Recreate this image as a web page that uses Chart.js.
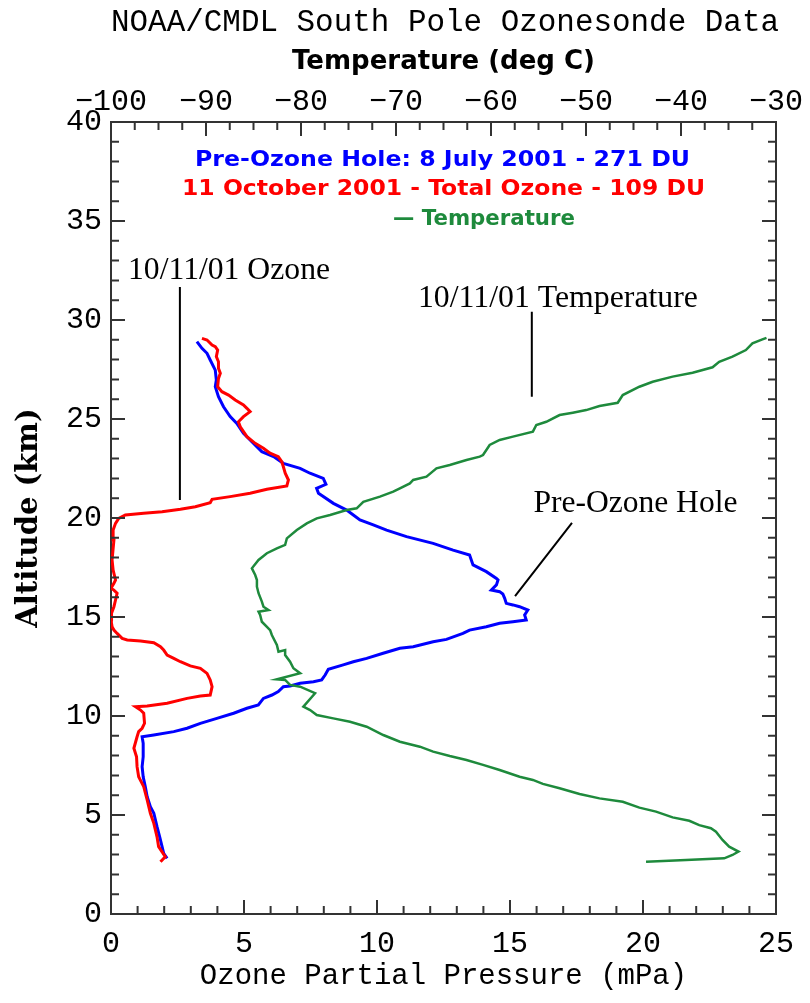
<!DOCTYPE html>
<html>
<head>
<meta charset="utf-8">
<script src="https://cdn.jsdelivr.net/npm/chart.js@4.4.1/dist/chart.umd.min.js"></script>
<style>
  body { margin: 0; background: #fff; }
  canvas { display: block; }
</style>
</head>
<body>
<canvas id="grafico" width="810" height="1003"></canvas>
<script>
// 11 Oct 2001 ozone (mPa) vs altitude (km)
const octO3 = [1.86,2.04,1.79,1.73,1.61,1.48,1.36,1.23,1.04,0.98,0.96,0.86,0.98,1.04,1.17,1.26,1.23,1.11,0.92,1.36,2.11,2.86,3.36,3.73,3.80,3.73,3.61,3.36,2.98,2.61,2.36,2.11,1.98,1.86,1.61,1.11,0.61,0.42,0.23,0.11,0.04,0.00,0.02,0.11,0.17,0.23,0.11,0.00,0.11,0.17,0.08,0.04,0.11,0.08,0.17,0.29,0.54,1.23,1.92,2.61,3.17,3.73,3.80,4.48,5.23,5.86,6.61,6.67,6.55,6.48,6.42,6.29,5.98,5.73,5.42,5.11,4.86,4.79,4.98,5.23,5.11,4.98,4.67,4.42,4.17,4.01,4.04,4.11,4.04,4.04,3.96,4.01,3.92,3.80,3.61,3.42];
const octAlt = [2.64,2.89,3.40,3.90,4.58,5.09,5.76,6.43,6.93,7.44,7.94,8.37,8.95,9.21,9.38,9.63,10.14,10.30,10.47,10.51,10.64,10.89,11.01,11.06,11.48,11.82,12.15,12.41,12.53,12.74,12.91,13.08,13.33,13.50,13.70,13.79,13.84,13.92,14.17,14.34,14.51,14.85,15.19,15.52,15.86,16.20,16.36,16.45,16.70,16.87,17.37,17.88,18.89,19.39,19.73,19.98,20.15,20.24,20.32,20.44,20.57,20.77,20.94,21.08,21.25,21.45,21.62,21.92,22.26,22.59,22.84,23.10,23.27,23.52,23.77,24.11,24.61,24.86,25.12,25.37,25.54,25.71,25.96,26.21,26.38,26.63,27.05,27.31,27.56,27.89,28.15,28.48,28.65,28.74,28.99,29.07];

// 8 July 2001 ozone (pre-ozone hole)
const preO3 = [2.11,1.98,1.92,1.83,1.73,1.61,1.48,1.36,1.29,1.21,1.17,1.21,1.21,1.17,1.61,2.36,2.86,3.36,3.98,4.61,5.11,5.54,5.73,6.05,6.29,6.48,6.73,7.11,7.61,7.92,8.05,8.17,8.73,9.11,9.61,10.23,10.86,11.36,12.11,12.61,13.23,13.48,14.11,14.61,15.11,15.61,15.55,15.67,15.36,15.11,14.86,14.80,14.73,14.61,14.30,14.49,14.55,14.49,14.11,13.61,13.48,12.86,12.11,11.11,10.36,9.86,9.36,9.11,8.86,8.36,7.80,7.73,8.08,7.98,7.48,7.11,6.48,6.11,5.67,5.36,4.98,4.73,4.48,4.23,4.04,3.92,3.96,3.92,3.73,3.61,3.42,3.23];
const preAlt = [2.81,3.06,3.40,3.90,4.41,5.09,5.42,5.92,6.43,6.93,7.44,7.94,8.62,8.95,9.04,9.21,9.38,9.63,9.88,10.14,10.39,10.56,10.89,11.06,11.23,11.48,11.52,11.65,11.73,11.82,12.07,12.36,12.58,12.74,12.91,13.17,13.42,13.50,13.75,13.87,14.17,14.34,14.51,14.68,14.76,14.85,15.10,15.35,15.52,15.61,15.69,15.94,16.16,16.28,16.36,16.62,16.87,16.95,17.29,17.63,18.13,18.38,18.72,19.06,19.39,19.65,19.90,20.15,20.40,20.74,21.25,21.50,21.70,22.00,22.26,22.51,22.76,23.10,23.35,23.77,24.28,24.78,25.12,25.62,26.13,26.63,26.97,27.47,27.98,28.32,28.57,28.91];

// 11 Oct 2001 temperature (deg C)
const tempC = [-43.68,-39.47,-35.45,-34.58,-33.95,-34.93,-35.63,-36.32,-36.85,-38.08,-39.13,-40.88,-42.63,-44.38,-46.13,-48.58,-50.68,-52.78,-54.54,-55.59,-56.99,-59.09,-60.84,-62.58,-64.34,-66.09,-67.49,-69.59,-71.34,-73.09,-74.84,-76.60,-78.34,-79.04,-79.75,-78.52,-80.09,-81.15,-81.67,-82.54,-80.09,-80.80,-81.15,-81.67,-81.67,-82.37,-82.54,-83.07,-83.25,-84.12,-84.30,-84.47,-83.42,-83.95,-84.12,-84.47,-84.64,-84.64,-84.82,-85.17,-84.47,-83.59,-82.54,-81.67,-81.49,-80.44,-79.39,-78.34,-76.94,-75.19,-74.14,-73.44,-71.69,-70.29,-69.59,-68.54,-68.19,-66.79,-65.74,-64.34,-62.58,-61.19,-60.84,-60.14,-59.09,-57.69,-55.59,-55.23,-54.18,-52.78,-51.39,-49.98,-48.58,-46.66,-46.13,-44.38,-42.98,-40.88,-38.78,-36.68,-35.98,-34.58,-33.17,-32.48,-31.43,-31.00];
const tempAlt = [2.64,2.73,2.81,2.98,3.15,3.40,3.74,4.16,4.33,4.49,4.71,4.88,5.17,5.37,5.67,5.84,6.06,6.35,6.57,6.77,6.93,7.27,7.53,7.78,7.98,8.20,8.45,8.70,9.04,9.46,9.71,9.88,10.05,10.30,10.47,11.15,11.48,11.57,11.82,11.85,12.16,12.41,12.74,13.08,13.33,13.25,13.59,14.09,14.34,14.76,15.10,15.27,15.35,15.52,15.78,16.20,16.53,16.87,17.12,17.46,17.88,18.22,18.47,18.64,18.97,19.39,19.73,19.98,20.15,20.40,20.49,20.82,21.08,21.33,21.50,21.75,21.92,22.09,22.51,22.68,22.93,23.10,23.18,23.69,23.94,24.11,24.36,24.70,24.86,25.20,25.32,25.45,25.66,25.82,26.21,26.63,26.88,27.14,27.34,27.61,27.89,28.15,28.48,28.82,29.02,29.10];

const ozoneTicks = [0, 5, 10, 15, 20, 25];
const tempTicks = [-100, -90, -80, -70, -60, -50, -40, -30];
const altTicks = [0, 5, 10, 15, 20, 25, 30, 35, 40];

const legendLines = [
    'Pre-Ozone Hole: 8 July 2001 - 271 DU',
    '11 October 2001 - Total Ozone - 109 DU',
    '\u2014 Temperature'
];

const puntos = (xs, ys) => xs.map((v, i) => ({x: v, y: ys[i]}));

// texto ajustado a un ancho dado (x = borde izquierdo, y = linea base)
const textoAjustado = (ctx, texto, x, y, ancho, font, color) => {
    ctx.save();
    ctx.font = font;
    ctx.fillStyle = color;
    ctx.textAlign = 'left';
    ctx.textBaseline = 'alphabetic';
    let w = ctx.measureText(texto).width;
    ctx.translate(x, y);
    ctx.scale(ancho / w, 1);
    ctx.fillText(texto, 0, 0);
    ctx.restore();
}

const marcas = {
    id: 'marcas',
    afterDatasetsDraw(chart) {
        const {ctx, chartArea: a, scales} = chart;
        ctx.save();
        ctx.strokeStyle = '#333';
        ctx.lineWidth = 2;
        ctx.beginPath();
        for (let v = 0; v <= 25; v++) {
            let px = scales.x.getPixelForValue(v);
            let l = v % 5 === 0 ? 14 : 8;
            ctx.moveTo(px, a.bottom);
            ctx.lineTo(px, a.bottom - l);
        }
        for (let v = -100; v <= -30; v += 2.5) {
            let px = scales.x2.getPixelForValue(v);
            let l = v % 10 === 0 ? 14 : 8;
            ctx.moveTo(px, a.top);
            ctx.lineTo(px, a.top + l);
        }
        for (let v = 0; v <= 40; v++) {
            let py = scales.y.getPixelForValue(v);
            let l = v % 5 === 0 ? 14 : 8;
            ctx.moveTo(a.left, py);
            ctx.lineTo(a.left + l, py);
            ctx.moveTo(a.right, py);
            ctx.lineTo(a.right - l, py);
        }
        ctx.stroke();
        ctx.restore();
    },
    afterDraw(chart) {
        const {ctx, scales} = chart;
        const px = v => scales.x.getPixelForValue(v);
        const py = v => scales.y.getPixelForValue(v);

        textoAjustado(ctx, 'NOAA/CMDL South Pole Ozonesonde Data', 111, 31, 668, '31px "Liberation Mono"', '#000');

        const legendFont = 'bold 21px "DejaVu Sans"';
        textoAjustado(ctx, legendLines[0], 195, 166, 495, legendFont, '#0000ff');
        textoAjustado(ctx, legendLines[1], 182, 195, 523, legendFont, '#ff0000');
        textoAjustado(ctx, legendLines[2], 393, 225, 182, legendFont, '#1e8a3c');

        const notaFont = '31px "Liberation Serif"';
        textoAjustado(ctx, '10/11/01 Ozone', px(0.64), py(32.07), 202, notaFont, '#000');
        textoAjustado(ctx, '10/11/01 Temperature', px(11.54), py(30.67), 280, notaFont, '#000');
        textoAjustado(ctx, 'Pre-Ozone Hole', px(15.88), py(20.32), 204, notaFont, '#000');

        ctx.save();
        ctx.strokeStyle = '#000';
        ctx.lineWidth = 2;
        ctx.beginPath();
        ctx.moveTo(px(2.59), py(31.67));
        ctx.lineTo(px(2.59), py(20.91));
        ctx.moveTo(px(15.82), py(30.42));
        ctx.lineTo(px(15.82), py(26.13));
        ctx.moveTo(px(17.33), py(19.75));
        ctx.lineTo(px(15.19), py(16.06));
        ctx.stroke();
        ctx.restore();
    }
}

const monoTicks = {family: 'Liberation Mono', size: 30};

const config = {
    type: 'scatter',
    data: {
        datasets: [
            {
                label: 'Pre-Ozone Hole',
                data: puntos(preO3, preAlt),
                borderColor: '#0000ff',
                borderWidth: 3,
                showLine: true,
                pointRadius: 0,
                xAxisID: 'x',
                yAxisID: 'y',
                order: 3
            },
            {
                label: '11 October 2001',
                data: puntos(octO3, octAlt),
                borderColor: '#ff0000',
                borderWidth: 3,
                showLine: true,
                pointRadius: 0,
                xAxisID: 'x',
                yAxisID: 'y',
                order: 2
            },
            {
                label: 'Temperature',
                data: puntos(tempC, tempAlt),
                borderColor: '#1e8a3c',
                borderWidth: 2.5,
                showLine: true,
                pointRadius: 0,
                xAxisID: 'x2',
                yAxisID: 'y',
                order: 1
            }
        ]
    },
    options: {
        responsive: false,
        animation: false,
        devicePixelRatio: 1,
        layout: {padding: 0},
        plugins: {
            legend: {display: false},
            tooltip: {enabled: false},
            title: {display: false}
        },
        scales: {
            x: {
                type: 'linear',
                position: 'bottom',
                min: 0,
                max: 25,
                afterFit: s => { s.height = 89; },
                afterBuildTicks: s => { s.ticks = ozoneTicks.map(v => ({value: v})); },
                grid: {display: false, drawTicks: false},
                border: {display: true, color: '#333', width: 2},
                ticks: {autoSkip: false, maxRotation: 0, padding: 12, color: '#000', font: monoTicks},
                title: {
                    display: true,
                    text: 'Ozone Partial Pressure (mPa)',
                    color: '#000',
                    font: {family: 'Liberation Mono', size: 29},
                    padding: {top: 0, bottom: 9}
                }
            },
            x2: {
                type: 'linear',
                position: 'top',
                min: -100,
                max: -30,
                afterFit: s => { s.height = 122; },
                afterBuildTicks: s => { s.ticks = tempTicks.map(v => ({value: v})); },
                grid: {display: false, drawTicks: false},
                border: {display: true, color: '#333', width: 2},
                ticks: {
                    autoSkip: false,
                    maxRotation: 0,
                    padding: 2,
                    color: '#000',
                    font: monoTicks,
                    callback: v => String(v).replace('-', '\u2212')
                },
                title: {
                    display: true,
                    text: 'Temperature (deg C)',
                    color: '#000',
                    font: {family: 'DejaVu Sans', size: 26, weight: 'bold'},
                    padding: {top: 47, bottom: 0}
                }
            },
            y: {
                type: 'linear',
                position: 'left',
                min: 0,
                max: 40,
                afterFit: s => { s.width = 111; },
                afterBuildTicks: s => { s.ticks = altTicks.map(v => ({value: v})); },
                grid: {display: false, drawTicks: false},
                border: {display: true, color: '#333', width: 2},
                ticks: {autoSkip: false, padding: 9, color: '#000', font: monoTicks},
                title: {
                    display: true,
                    text: 'Altitude (km)',
                    color: '#000',
                    font: {family: 'DejaVu Serif', size: 29, weight: 'bold'},
                    padding: {top: 12, bottom: 0}
                }
            },
            y2: {
                type: 'linear',
                position: 'right',
                min: 0,
                max: 40,
                afterFit: s => { s.width = 34; },
                grid: {display: false, drawTicks: false},
                border: {display: true, color: '#333', width: 2},
                ticks: {display: false}
            }
        }
    },
    plugins: [marcas]
}

const ctx = document.getElementById('grafico');
const myChart = new Chart(ctx, config);
</script>
</body>
</html>
